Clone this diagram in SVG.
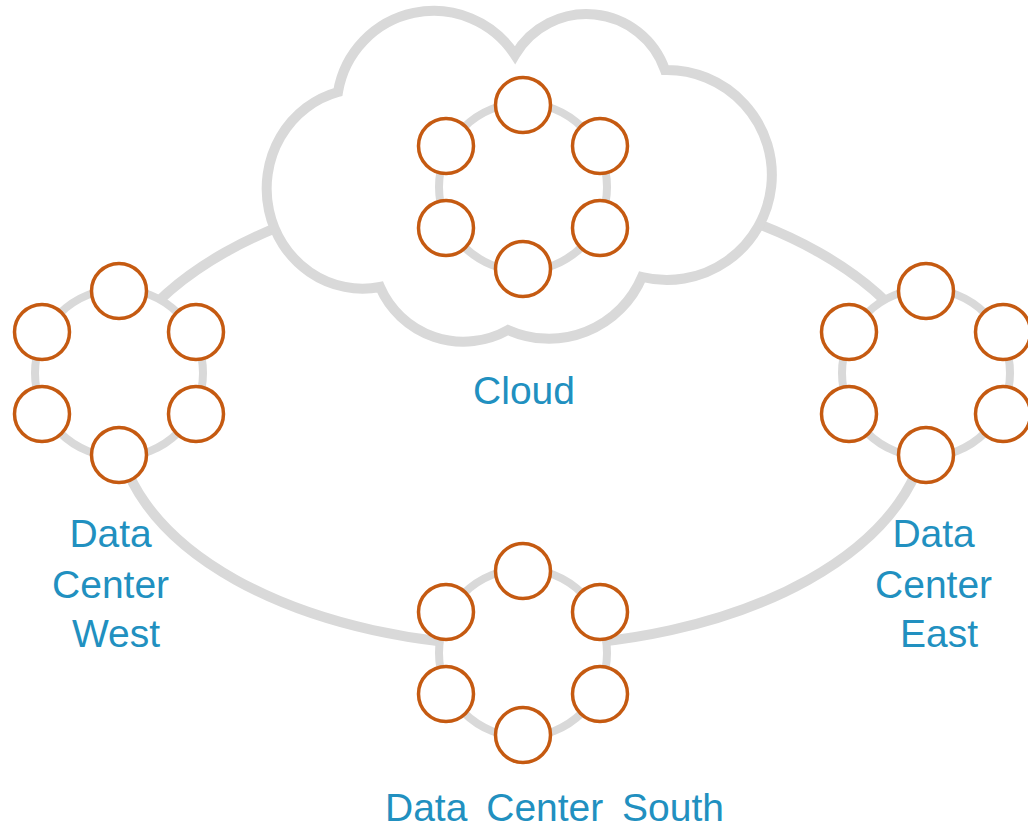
<svg xmlns="http://www.w3.org/2000/svg" width="1028" height="828" viewBox="0 0 1028 828">
  <style>
    .loop { fill: none; stroke: #d9d9d9; stroke-width: 10; }
    .cloud { fill: #ffffff; stroke: #d9d9d9; stroke-width: 10; stroke-linejoin: miter; }
    .ring { fill: #ffffff; stroke: #d9d9d9; stroke-width: 8; }
    .node { fill: #ffffff; stroke: #c55a11; stroke-width: 3.5; }
    .label { font-family: "Liberation Sans", Arial, sans-serif; font-size: 39px; fill: #2190c0; }
  </style>
  <defs>
    <!-- one cluster: ring of six nodes around a light hub ring -->
    <g id="cluster">
      <circle class="ring" cx="0" cy="0" r="84"/>
      <circle class="node" cx="0" cy="-82" r="27.5"/>
      <circle class="node" cx="-77" cy="-41" r="27.5"/>
      <circle class="node" cx="77" cy="-41" r="27.5"/>
      <circle class="node" cx="-77" cy="41" r="27.5"/>
      <circle class="node" cx="77" cy="41" r="27.5"/>
      <circle class="node" cx="0" cy="82" r="27.5"/>
    </g>
  </defs>

  <rect width="1028" height="828" fill="#ffffff"/>

  <!-- backbone loop linking all sites -->
  <g id="connectors">
    <path class="loop" d="M 942 420 A 420 237 0 0 0 102 420 L 117 420 A 405 226 0 0 0 927 420 Z"/>
  </g>

  <g id="cloud">
    <path class="cloud" d="M 338 92 A 97 97 0 0 1 515 55 A 83 83 0 0 1 665 70 A 105 105 0 1 1 642 277 A 101 101 0 0 1 508 330 A 91 91 0 0 1 380 287 A 96 100 0 0 1 338 92 Z"/>
    <use href="#cluster" x="523" y="187"/>
    <text class="label" x="524" y="404" text-anchor="middle">Cloud</text>
  </g>

  <g id="dc-west">
    <use href="#cluster" x="119" y="373"/>
    <text class="label" text-anchor="middle">
      <tspan x="116" y="547">Data</tspan>
      <tspan x="116" y="598">Center</tspan>
      <tspan x="116" y="647">West</tspan>
    </text>
  </g>

  <g id="dc-east">
    <use href="#cluster" x="926" y="373"/>
    <text class="label" text-anchor="middle">
      <tspan x="939" y="547">Data</tspan>
      <tspan x="939" y="598">Center</tspan>
      <tspan x="939" y="647">East</tspan>
    </text>
  </g>

  <g id="dc-south">
    <use href="#cluster" x="523" y="653"/>
    <text class="label" x="385" y="821" word-spacing="8">Data Center South</text>
  </g>
</svg>
